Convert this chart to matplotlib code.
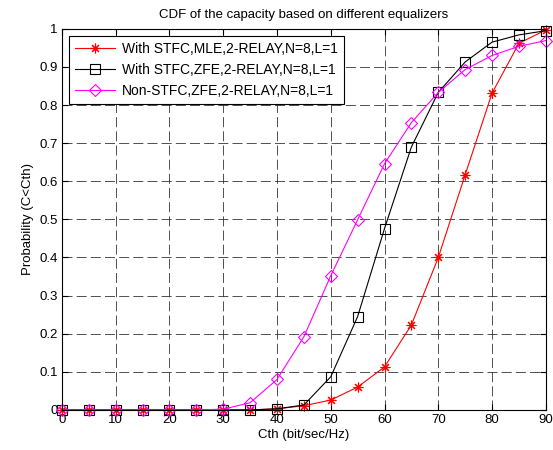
import numpy as np
import matplotlib.pyplot as plt

plt.rcParams['font.family'] = ['Liberation Sans', 'DejaVu Sans']

cth = [0, 5, 10, 15, 20, 25, 30, 35, 40, 45, 50, 55, 60, 65, 70, 75, 80, 85, 90]
p_mle = [0, 0, 0, 0, 0, 0, 0, 0.0, 0.003, 0.011, 0.026, 0.06, 0.113, 0.223, 0.40,
         0.617, 0.831, 0.962, 0.997]
p_zfe = [0, 0, 0, 0, 0, 0, 0, 0.0, 0.003, 0.013, 0.087, 0.245, 0.476, 0.69, 0.833,
         0.913, 0.965, 0.984, 0.995]
p_non = [0, 0, 0, 0, 0, 0, 0.002, 0.019, 0.08, 0.192, 0.352, 0.499, 0.646, 0.754, 0.833,
         0.893, 0.93, 0.954, 0.969]

labels = ["With STFC,MLE,2-RELAY,N=8,L=1",
          "With STFC,ZFE,2-RELAY,N=8,L=1",
          "Non-STFC,ZFE,2-RELAY,N=8,L=1"]

fig = plt.figure(figsize=(5.53, 4.5), dpi=100)
ax = fig.add_axes([0.112, 0.089, 0.875, 0.847])

ax.plot(cth, p_mle, color='red', lw=0.8, marker=(8, 2, 0), ms=7, mew=0.8,
        label=labels[0], clip_on=False)
ax.plot(cth, p_zfe, color='black', lw=0.8, marker='s', ms=7, mfc='none', mew=0.8,
        label=labels[1], clip_on=False)
ax.plot(cth, p_non, color='magenta', lw=0.8, marker='D', ms=6, mfc='none', mew=0.8,
        label=labels[2], clip_on=False)

ax.set_xlim(0, 90)
ax.set_ylim(0, 1)
ax.set_xticks(np.arange(0, 91, 10))
ax.set_yticks(np.arange(0, 1.01, 0.1))
ax.set_yticklabels(['0', '0.1', '0.2', '0.3', '0.4', '0.5', '0.6', '0.7', '0.8', '0.9', '1'])
ax.tick_params(direction='in', length=4, top=True, right=True, labelsize=9.5, pad=3)
ax.grid(True, color='0.2', linestyle=(0, (12, 5)), linewidth=0.6)
for s in ax.spines.values():
    s.set_linewidth(0.8)

ax.set_xlabel("Cth (bit/sec/Hz)", fontsize=9.5, labelpad=2)
ax.set_ylabel("Probability (C<Cth)", fontsize=9.5, labelpad=4)
ax.set_title("CDF of the capacity based on different equalizers", fontsize=9.5, pad=8)

leg = ax.legend(loc='upper left', fontsize=10, handlelength=2.9, borderaxespad=0.5,
                fancybox=False, edgecolor='black', framealpha=1, labelspacing=0.5,
                borderpad=0.45, handletextpad=0.5)
leg.get_frame().set_linewidth(0.8)

fig.savefig("out.png", dpi=100)
